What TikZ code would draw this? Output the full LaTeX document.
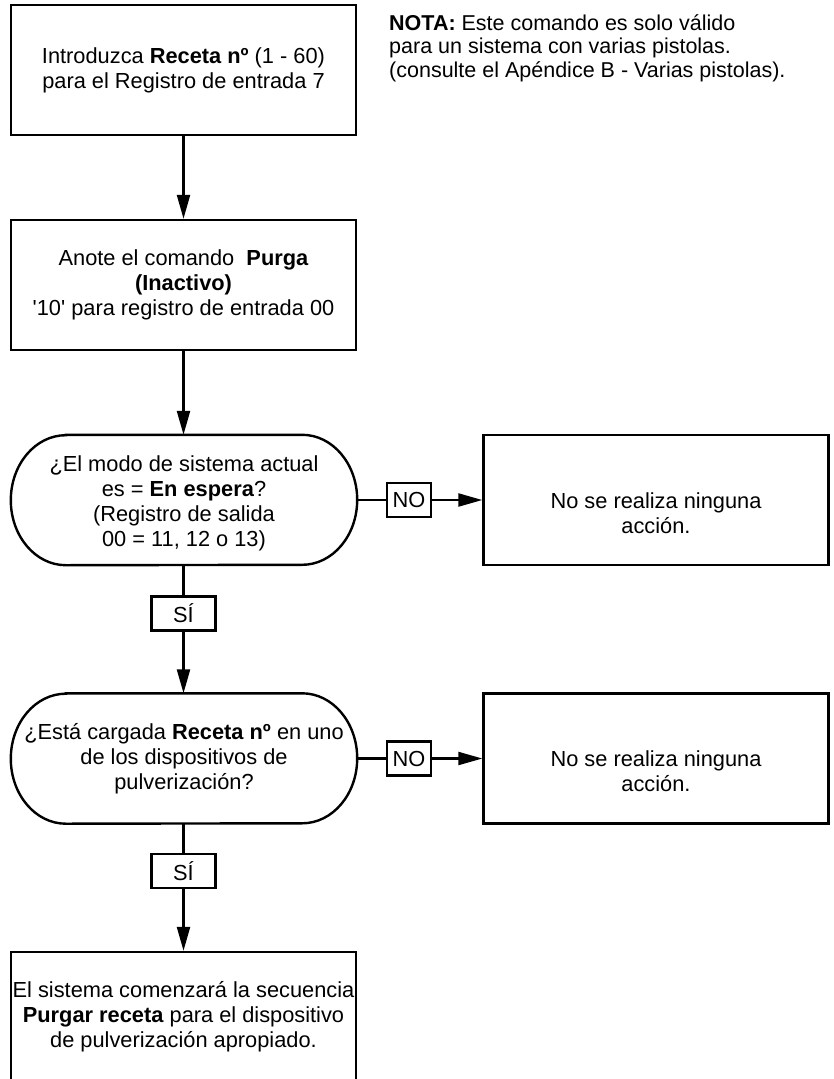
\documentclass[tikz,border=0pt]{standalone}
\usepackage{fontspec}
\setmainfont{Liberation Sans}
\usetikzlibrary{arrows.meta}
\begin{document}
\begin{tikzpicture}[x=1pt,y=-1pt,
  every node/.style={font=\fontsize{21.8}{25}\selectfont},
  boxnode/.style={draw, line width=2.4pt, minimum width=345pt, minimum height=130pt, inner sep=0pt, align=center},
  decnode/.style={minimum width=346pt, minimum height=130pt, inner sep=0pt, align=center},
  txtnode/.style={inner sep=0pt, align=center},
  lblnode/.style={draw, line width=2.2pt, minimum height=34pt, inner sep=0pt},
  conn/.style={line width=2.2pt},
  arr/.style={line width=2.2pt, -{Triangle[length=24pt,width=13pt]}},
  stadium/.style={line width=2.4pt}
]
\useasboundingbox (0,0) rectangle (833,1079);

% main column
\node[boxnode] (b1) at (183.5,70) {Introduzca \textbf{Receta nº} (1 - 60)\\para el Registro de entrada 7};
\node[boxnode] (b2) at (183.5,285) {Anote el comando~ \textbf{Purga}\\\textbf{(Inactivo)}\\\textquotesingle 10\textquotesingle{} para registro de entrada 00};
\node[decnode] (d1) at (184,500) {};
\node[txtnode] (d1t) at ([yshift=-3pt]d1.center) {¿El modo de sistema actual\\es = \textbf{En espera}?\\(Registro de salida\\00 = 11, 12 o 13)};
\node[decnode] (d2) at (184,758.5) {¿Está cargada \textbf{Receta nº} en uno\\de los dispositivos de\\pulverización?};
\node[boxnode] (b3) at (183.5,1017) {El sistema comenzará la secuencia\\\textbf{Purgar receta} para el dispositivo\\de pulverización apropiado.};

% decision outlines (stadium with elliptic ends)
\draw[stadium] ([xshift=55pt]d1.north west) -- ([xshift=-55pt]d1.north east)
  arc[start angle=90,end angle=-90,x radius=55pt,y radius=65pt]
  -- ([xshift=55pt]d1.south west)
  arc[start angle=270,end angle=90,x radius=55pt,y radius=65pt] -- cycle;
\draw[stadium] ([xshift=55pt]d2.north west) -- ([xshift=-55pt]d2.north east)
  arc[start angle=90,end angle=-90,x radius=55pt,y radius=65pt]
  -- ([xshift=55pt]d2.south west)
  arc[start angle=270,end angle=90,x radius=55pt,y radius=65pt] -- cycle;

% right boxes
\node[boxnode] (r1) at (656,500) {};
\node[txtnode] (r1t) at ([yshift=-13pt]r1.center) {No se realiza ninguna\\acción.};
\node[boxnode] (r2) at (656,758.5) {};
\node[txtnode] (r2t) at ([yshift=-13pt]r2.center) {No se realiza ninguna\\acción.};

% labels
\node[lblnode, minimum width=44pt] (no1) at (409,500) {NO};
\node[lblnode, minimum width=44pt] (no2) at (409,758.5) {NO};
\node[lblnode, minimum width=64pt] (si1) at (183.5,613.5) {SÍ};
\node[lblnode, minimum width=64pt] (si2) at (183.5,871) {SÍ};

% note
\node[txtnode, align=left, anchor=north west, font=\fontsize{21.5}{23.5}\selectfont] (nota) at (389,14)
  {\textbf{NOTA:} Este comando es solo válido\\para un sistema con varias pistolas.\\(consulte el Apéndice B - Varias pistolas).};

% connectors
\draw[arr] (b1.south) -- (b2.north);
\draw[arr] (b2.south) -- (b2.south |- d1.north);
\draw[conn] (d1.east) -- (no1.west);
\draw[arr] (no1.east) -- (r1.west);
\draw[conn] (d1.south -| si1.north) -- (si1.north);
\draw[arr] (si1.south) -- (si1.south |- d2.north);
\draw[conn] (d2.east) -- (no2.west);
\draw[arr] (no2.east) -- (r2.west);
\draw[conn] (d2.south -| si2.north) -- (si2.north);
\draw[arr] (si2.south) -- (b3.north);
\end{tikzpicture}
\end{document}
